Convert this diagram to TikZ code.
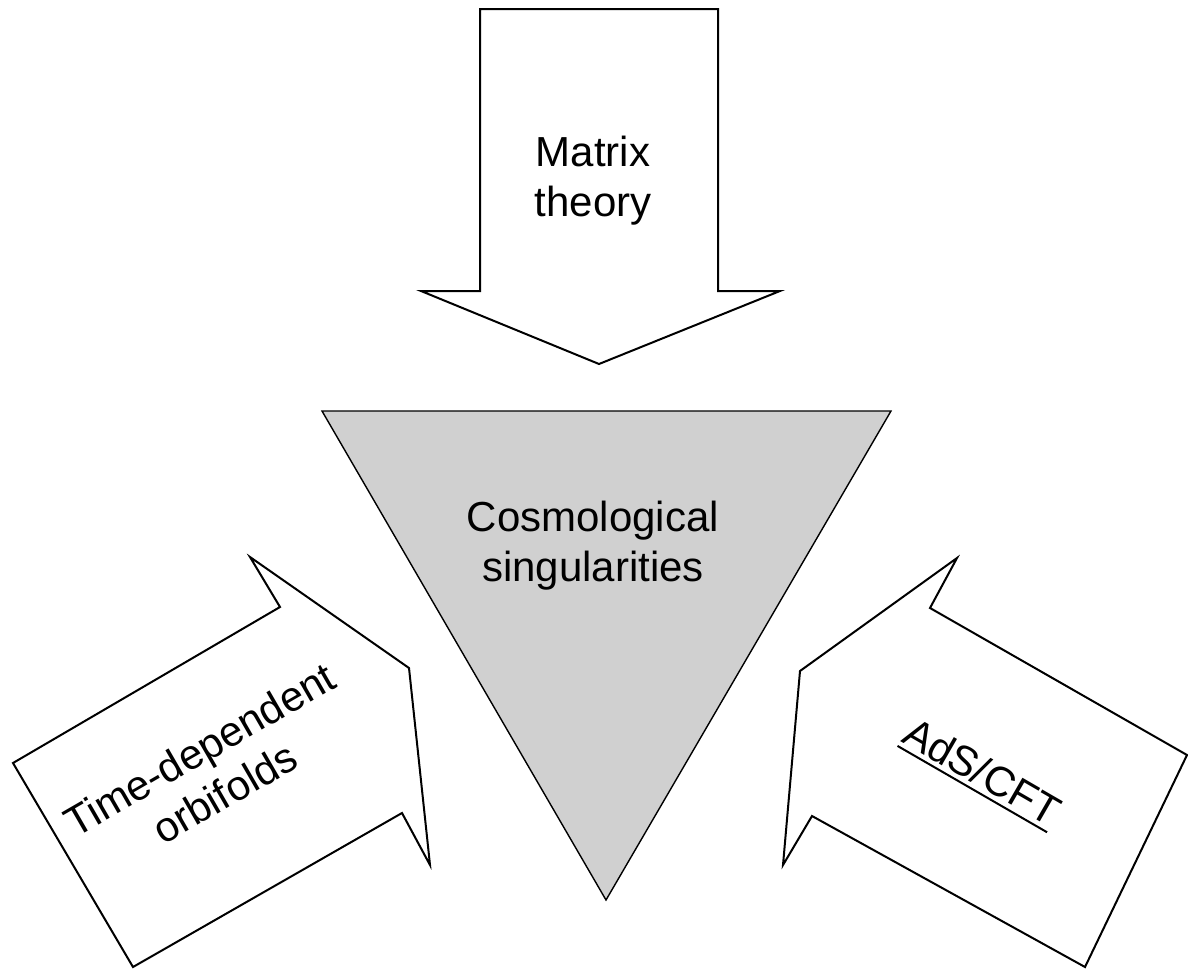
\documentclass[tikz,border=0pt]{standalone}
\usepackage{fontspec}
\setmainfont{Liberation Sans}
\definecolor{trigray}{RGB}{208,208,208}
\newcommand\thickul[1]{\setbox0\hbox{#1}\rlap{\vrule height -2.2pt depth 3.2pt width \wd0}\box0}
\begin{document}
\begin{tikzpicture}[x=0.5pt,y=-0.5pt,
  blockarrow/.style={draw=black,line width=1pt,line join=miter,fill=white},
  centretri/.style={draw=black,line width=0.7pt,fill=trigray,line join=miter},
  lbl/.style={align=center,inner sep=0pt,font=\fontsize{21}{25}\selectfont}]
\useasboundingbox (0,0) rectangle (1188,969);
% top arrow
\draw[blockarrow] (480,9) -- (718,9) -- (718,291) -- (780,291) -- (599,364) -- (421,291) -- (480,291) -- cycle;
% central triangle
\draw[centretri] (322,411) -- (891,411) -- (606,900) -- cycle;
% left arrow
\draw[blockarrow] (13,763) -- (280,607) -- (250,557) -- (409,668) -- (430,865) -- (402,813) -- (133,967) -- cycle;
% right arrow
\draw[blockarrow] (930,608) -- (957,558) -- (800,671) -- (783,865) -- (812,816) -- (1085,967) -- (1187,755) -- cycle;
% labels
\node[lbl] (matrix) at (593,181) {Matrix\\theory};
\node[lbl] (cosmo) at (593,546) {Cosmological\\singularities};
\node[lbl,rotate=30] (orbi) at (212,771) {Time-dependent\\orbifolds};
\node[lbl,rotate=-30] (ads) at (981,774) {\thickul{AdS/CFT}};
\end{tikzpicture}
\end{document}
